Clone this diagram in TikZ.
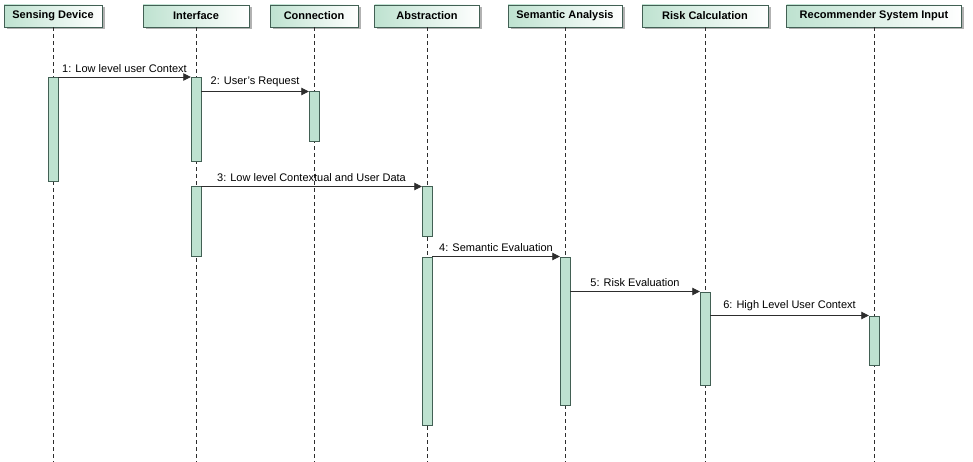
\documentclass[tikz,border=0pt]{standalone}
\usepackage{fontspec}
\setmainfont{Liberation Sans}
\usetikzlibrary{arrows.meta,shadows}

\definecolor{mint}{RGB}{190,226,208}
\definecolor{edge}{RGB}{66,96,84}
\definecolor{wire}{RGB}{45,45,45}

\tikzset{
  head/.style={draw=edge,thick,left color=mint,right color=white,minimum height=22pt,
    inner sep=0pt,font=\fontsize{11}{13}\selectfont\bfseries,
    drop shadow={shadow xshift=2.5pt,shadow yshift=-2.5pt,fill=black!30,opacity=1}},
  bar/.style={draw=edge,fill=mint,minimum width=10pt,inner sep=0pt,anchor=north},
  lifeline/.style={wire,dash pattern=on 4pt off 3pt,line width=0.7pt},
  msg/.style={wire,line width=0.8pt,-{Triangle[length=7.5pt,width=7.5pt]}},
  lbl/.style={font=\fontsize{11}{13}\selectfont,text=black,inner sep=1pt,above=3pt}
}

\begin{document}
\begin{tikzpicture}[x=1pt,y=-1pt]
\useasboundingbox (0,0) rectangle (973,462);

% Lifeline heads
\node[head,minimum width=98pt]  (sd) at (53,16)  {Sensing Device};
\node[head,minimum width=106pt] (if) at (196,16) {Interface};
\node[head,minimum width=88pt]  (cn) at (314,16) {Connection};
\node[head,minimum width=105pt] (ab) at (427,16) {Abstraction};
\node[head,minimum width=114pt] (sa) at (565,16) {Semantic Analysis};
\node[head,minimum width=126pt] (rc) at (705,16) {Risk Calculation};
\node[head,minimum width=175pt] (rs) at (874,16) {Recommender System Input};

% Dashed lifelines down to the bottom edge
\coordinate (bottom) at (0,462);
\draw[lifeline] (sd.south) -- (sd.south |- bottom);
\draw[lifeline] (if.south) -- (if.south |- bottom);
\draw[lifeline] (cn.south) -- (cn.south |- bottom);
\draw[lifeline] (ab.south) -- (ab.south |- bottom);
\draw[lifeline] (sa.south) -- (sa.south |- bottom);
\draw[lifeline] (rc.south) -- (rc.south |- bottom);
\draw[lifeline] (rs.south) -- (rs.south |- bottom);

% Activation bars
\node[bar,minimum height=104pt] (sdA) at (53,77)    {};
\node[bar,minimum height=84pt]  (ifA) at (196,77)   {};
\node[bar,minimum height=69.5pt] (ifB) at (196,186.5) {};
\node[bar,minimum height=49.5pt] (cnA) at (314,91.5) {};
\node[bar,minimum height=49.5pt] (abA) at (427,186.5) {};
\node[bar,minimum height=168.5pt] (abB) at (427,256.5) {};
\node[bar,minimum height=148.5pt] (saA) at (565,256.5) {};
\node[bar,minimum height=93.5pt] (rcA) at (705,291.5) {};
\node[bar,minimum height=49.5pt] (rsA) at (874,315.5) {};

% Messages
\draw[msg] (sdA.north east) -- (ifA.north west)
  node[lbl,midway] {1: Low level user Context};
\draw[msg] (ifA.east |- cnA.north) -- (cnA.north west)
  node[lbl,midway] {2: User's Request};
\draw[msg] (ifB.north east) -- (abA.north west)
  node[lbl,midway] {3: Low level Contextual and User Data};
\draw[msg] (abB.north east) -- (saA.north west)
  node[lbl,midway] {4: Semantic Evaluation};
\draw[msg] (saA.east |- rcA.north) -- (rcA.north west)
  node[lbl,midway] {5: Risk Evaluation};
\draw[msg] (rcA.east |- rsA.north) -- (rsA.north west)
  node[lbl,midway] {6: High Level User Context};
\end{tikzpicture}
\end{document}
